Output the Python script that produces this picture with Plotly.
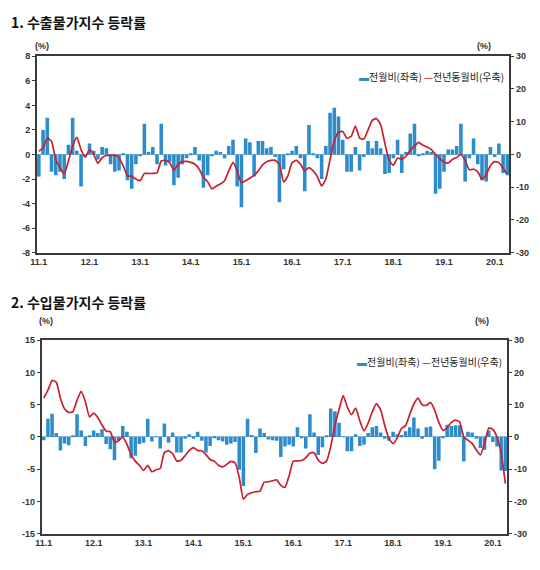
import plotly.graph_objects as go
import pandas as pd

# ---------------- data ----------------
months = pd.date_range("2011-01-01", periods=112, freq="MS").strftime("%Y-%m").tolist()
tick_vals = ["2011-01", "2012-01", "2013-01", "2014-01", "2015-01",
             "2016-01", "2017-01", "2018-01", "2019-01", "2020-01"]
tick_text = ["11.1", "12.1", "13.1", "14.1", "15.1", "16.1", "17.1", "18.1", "19.1", "20.1"]

left_ticks_1 = [-8, -6, -4, -2, 0, 2, 4, 6, 8]
left_ticks_2 = [-15, -10, -5, 0, 5, 10, 15]
right_ticks = [-30, -20, -10, 0, 10, 20, 30]

# 1. export price index: month-on-month (left axis, %)
export_mom = [
    -1.8, 2.0, 3.0, -1.4, -1.7, -1.4, -2.0, 0.8, 3.0, 0.3, -2.6, -0.2,
    0.9, 0.3, -0.4, 0.6, 0.5, -0.8, -1.4, -1.3, 0.1, -2.1, -2.8, -0.8,
    -0.1, 2.5, 0.2, 0.6, -0.8, 2.5, -0.9, -0.6, -2.5, -1.9, -0.8, -0.3,
    0.1, 0.6, -0.5, -2.7, -1.7, -0.1, 0.3, 0.2, -0.3, 0.7, 1.2, -2.6,
    -4.3, 1.3, 1.0, -1.8, 1.1, 1.1, 0.5, 0.6, -0.2, -3.9, -1.2, 0.1,
    0.3, 0.7, -0.3, -3.0, 2.4, 0.1, -0.3, -2.0, 0.7, 3.4, 3.8, 3.1,
    1.2, -1.4, -1.4, 0.6, -1.3, -0.2, 1.1, 0.5, 1.1, 0.5, -1.6, -1.5,
    -0.3, 1.2, -1.5, 0.2, 1.7, 2.5, -0.1, 0.1, 0.3, 0.2, -3.2, -2.8,
    -1.4, 0.4, 0.4, 0.7, 2.5, -2.2, -0.3, 1.3, -0.8, -2.1, -2.2, 0.6,
    -0.2, 0.9, -1.5, -1.7,
]
# 1. export price index: year-on-year (right axis, %)
export_yoy = [
    1.0, 2.0, 5.0, 4.0, -1.5, -4.0, -6.0, -2.0, 2.5, 5.2, 1.5, -0.8,
    1.5, 0.0, -2.7, -1.0, -0.3, -0.3, -0.2, -1.0, -3.5, -6.5, -6.7, -7.5,
    -8.0, -5.8, -5.8, -5.8, -5.6, -2.0, -1.8, -2.5, -4.8, -3.0, -2.2, -2.1,
    -2.4, -3.0, -4.5, -7.0, -8.3, -10.5, -9.7, -9.0, -8.0, -5.0, -2.4, -5.0,
    -8.6, -8.0, -7.2, -6.4, -5.0, -3.2, -2.2, -1.8, -1.8, -3.0, -8.4, -6.5,
    -2.5, -1.8, -3.0, -5.0, -4.0, -5.0, -6.8, -9.6, -7.5, -1.5, 4.2, 6.8,
    7.0, 5.0, 5.5, 8.7, 5.0, 4.7, 7.5, 10.4, 11.0, 9.0, 3.3, -1.8,
    -3.3, -1.1, -1.4, -0.5, 1.2, 2.6, 3.7, 2.8, 2.3, 1.5, 0.0, -1.3,
    -2.4, -2.6, -1.5, -0.9, 0.0, -1.8, -4.7, -4.5, -5.3, -7.6, -6.1, -3.4,
    -2.2, -2.5, -4.2, -6.0,
]
# 2. import price index: month-on-month (left axis, %)
import_mom = [
    -0.5, 2.8, 3.6, 0.6, -2.1, -1.0, -1.3, 0.2, 3.5, 1.0, -1.4, 0.2,
    1.0, 0.6, 1.2, -1.1, -1.9, -3.6, -0.5, 1.7, 0.8, -3.3, -2.9, -1.1,
    -0.9, 2.8, -0.7, 0.1, -1.8, 2.1, -0.9, 0.7, -2.4, -2.4, -0.3, 0.4,
    -0.3, 0.8, -0.6, -2.4, -1.4, -0.2, -0.5, -0.7, -1.2, -1.0, -0.8, -5.1,
    -7.6, 2.8, 0.3, -2.5, 1.3, 0.6, -0.4, -0.5, -0.6, -3.1, -1.5, -1.2,
    -1.5, 1.5, -0.2, -1.8, 3.5, 0.7, -2.8, -1.6, 0.2, 4.4, 4.0, 2.2,
    0.1, -2.2, -2.2, 0.4, -1.4, -1.2, 0.6, 1.5, 1.7, 0.7, -0.3, -0.6,
    0.8, 0.4, 0.3, 0.9, 1.5, 3.0, 1.3, -0.3, 1.5, 1.6, -5.0, -3.7,
    -0.1, 1.9, 1.7, 1.8, 1.8, -3.8, 0.8, 0.7, -0.3, -1.7, -2.0, 1.0,
    -0.8, -1.5, -5.2, -5.3,
]
# 2. import price index: year-on-year (right axis, %)
import_yoy = [
    12.0, 14.5, 17.5, 17.0, 12.0, 8.7, 7.6, 7.8, 11.4, 14.1, 11.0, 6.2,
    7.4, 6.0, 3.7, 1.8, 1.6, -1.6, -1.2, 0.0, -2.3, -5.5, -7.5, -8.8,
    -10.4, -8.8, -10.8, -10.2, -9.8, -4.8, -4.3, -5.2, -7.5, -7.2, -5.8, -4.2,
    -3.3, -4.2, -4.3, -5.5, -7.0, -7.5, -8.8, -9.3, -8.5, -7.6, -8.0, -12.5,
    -19.3, -17.8, -17.3, -17.0, -16.8, -14.0, -13.9, -13.6, -13.3, -15.0, -15.6, -12.0,
    -7.5, -7.4, -7.3, -6.5, -5.0, -4.9, -7.2, -8.2, -7.5, -3.0, 3.5, 8.5,
    12.8, 9.2, 6.9, 8.9, 5.0, 1.9, 4.3, 7.8, 10.3, 8.4, 3.5, -0.5,
    -2.1, -0.3, 2.6, 3.5, 7.0, 10.2, 12.0, 10.0, 9.8, 10.7, 8.3, 4.5,
    2.0, 2.9, 4.5, 5.2, 4.7, 0.0, -1.0, -2.0, -4.0, -5.6, -2.0, 2.8,
    2.3, -0.1, -5.0, -14.5,
]

# ---------------- style ----------------
W, H = 540, 570
OFF = 8  # page body margin offset
BLUE = "#2f8ccb"
RED = "#c8202c"
AX = "#3a3a3a"
NUM_FONT = dict(family="Arial, Liberation Sans, sans-serif", size=9, color="#333333", weight="bold")
KR = "Noto Sans CJK KR"


def px_x(p):
    return (p - OFF) / W


def px_y(p):
    return 1 - (p - OFF) / H


def labels(vals):
    return [str(v) for v in vals]


fig = go.Figure()

fig.add_trace(go.Bar(x=months, y=export_mom, name="전월비(좌축)", marker_color=BLUE,
                     marker_line_width=0, xaxis="x", yaxis="y", showlegend=False))
fig.add_trace(go.Scatter(x=months, y=export_yoy, name="전년동월비(우축)", mode="lines",
                         line=dict(color=RED, width=1.7, shape="spline", smoothing=0.5),
                         xaxis="x", yaxis="y2", showlegend=False))
fig.add_trace(go.Bar(x=months, y=import_mom, name="전월비(좌축)", marker_color=BLUE,
                     marker_line_width=0, xaxis="x2", yaxis="y3", showlegend=False))
fig.add_trace(go.Scatter(x=months, y=import_yoy, name="전년동월비(우축)", mode="lines",
                         line=dict(color=RED, width=1.7, shape="spline", smoothing=0.5),
                         xaxis="x2", yaxis="y4", showlegend=False))

xcommon = dict(type="category", categoryorder="array", categoryarray=months,
               range=[-0.5, len(months) - 0.5], tickvals=tick_vals, ticktext=tick_text,
               showline=True, linecolor=AX, linewidth=1.6, mirror=True, ticks="",
               showgrid=False, zeroline=False, tickfont=NUM_FONT)
ycommon = dict(showline=True, linecolor=AX, linewidth=1.6, ticks="outside", ticklen=3,
               tickcolor=AX, showgrid=False, tickfont=NUM_FONT)

fig.update_layout(
    width=W, height=H,
    margin=dict(l=0, r=0, t=0, b=0),
    paper_bgcolor="white", plot_bgcolor="white",
    font=dict(family="Arial, " + KR, size=10, color="#333333"),
    bargap=0.15,
    showlegend=False,
    xaxis=dict(domain=[px_x(31), px_x(509)], anchor="y", **xcommon),
    yaxis=dict(domain=[px_y(252), px_y(52)], anchor="x", range=[-8, 8],
               tickvals=left_ticks_1, ticktext=labels(left_ticks_1),
               zeroline=True, zerolinecolor="#8fb3d3", zerolinewidth=1, **ycommon),
    yaxis2=dict(overlaying="y", side="right", anchor="x", range=[-30, 30],
                tickvals=right_ticks, ticktext=labels(right_ticks),
                zeroline=False, **ycommon),
    xaxis2=dict(domain=[px_x(36), px_x(507)], anchor="y3", **xcommon),
    yaxis3=dict(domain=[px_y(538), px_y(341)], anchor="x2", range=[-15, 15],
                tickvals=left_ticks_2, ticktext=labels(left_ticks_2),
                zeroline=True, zerolinecolor="#8fb3d3", zerolinewidth=1, **ycommon),
    yaxis4=dict(overlaying="y3", side="right", anchor="x2", range=[-30, 30],
                tickvals=right_ticks, ticktext=labels(right_ticks),
                zeroline=False, **ycommon),
)

legend_text = (f"<span style='color:{BLUE}'>▬</span>전월비(좌축) "
               f"<span style='color:{RED}'>—</span>전년동월비(우축)")

annots = [
    dict(text="<b>1. 수출물가지수 등락률</b>", x=px_x(3), y=px_y(17), xanchor="left", yanchor="middle",
         font=dict(family=KR, size=14, color="#111111")),
    dict(text="<b>2. 수입물가지수 등락률</b>", x=px_x(3), y=px_y(302), xanchor="left", yanchor="middle",
         font=dict(family=KR, size=14, color="#111111")),
    dict(text="(%)", x=px_x(36), y=px_y(42), xanchor="center", yanchor="middle",
         font=dict(family="Arial", size=9, color="#333333", weight="bold")),
    dict(text="(%)", x=px_x(483), y=px_y(42), xanchor="center", yanchor="middle",
         font=dict(family="Arial", size=9, color="#333333", weight="bold")),
    dict(text="(%)", x=px_x(40), y=px_y(321), xanchor="center", yanchor="middle",
         font=dict(family="Arial", size=9, color="#333333", weight="bold")),
    dict(text="(%)", x=px_x(481), y=px_y(321), xanchor="center", yanchor="middle",
         font=dict(family="Arial", size=9, color="#333333", weight="bold")),
    dict(text=legend_text, x=px_x(506), y=px_y(73), xanchor="right", yanchor="middle",
         font=dict(family=KR, size=10, color="#222222")),
    dict(text=legend_text, x=px_x(503), y=px_y(363), xanchor="right", yanchor="middle",
         font=dict(family=KR, size=10, color="#222222")),
]
for a in annots:
    fig.add_annotation(xref="paper", yref="paper", showarrow=False, **a)

fig.write_html("out.html")
